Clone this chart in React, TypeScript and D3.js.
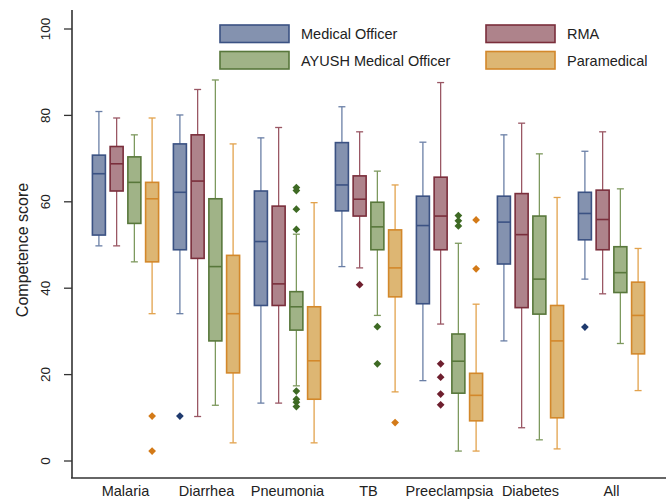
import React from 'react';
import * as d3 from 'd3';

// categories and series
const categories = ['Malaria', 'Diarrhea', 'Pneumonia', 'TB', 'Preeclampsia', 'Diabetes', 'All'];
const series = ['Medical Officer', 'RMA', 'AYUSH Medical Officer', 'Paramedical'];
const yTicks = [0, 20, 40, 60, 80, 100];

// [lower whisker, q1, median, q3, upper whisker] per category
const medicalOfficer = [
  [49.8, 52.3, 66.5, 70.8, 80.9],
  [34.1, 48.9, 62.2, 73.4, 80.1],
  [13.4, 36.0, 50.8, 62.5, 74.8],
  [45.0, 57.9, 63.9, 73.7, 82.0],
  [18.6, 36.4, 54.5, 61.3, 73.8],
  [27.8, 45.6, 55.3, 61.3, 75.5],
  [42.1, 51.2, 57.3, 62.2, 71.7],
];
const rma = [
  [49.8, 62.5, 68.8, 72.8, 79.4],
  [10.3, 46.9, 64.8, 75.5, 86.0],
  [13.4, 36.0, 41.0, 59.0, 77.2],
  [44.7, 56.7, 60.6, 66.0, 76.2],
  [31.7, 48.9, 56.7, 65.7, 87.6],
  [7.7, 35.5, 52.4, 61.9, 78.2],
  [38.7, 48.9, 55.9, 62.7, 76.2],
];
const ayush = [
  [46.1, 55.0, 64.5, 70.4, 75.5],
  [12.9, 27.8, 45.0, 60.7, 88.2],
  [17.4, 30.3, 35.7, 39.2, 52.5],
  [33.7, 48.9, 54.2, 59.9, 67.1],
  [2.3, 15.7, 23.1, 29.4, 50.4],
  [4.9, 34.0, 42.1, 56.7, 71.1],
  [27.2, 39.0, 43.6, 49.6, 63.0],
];
const paramedical = [
  [34.1, 46.1, 60.7, 64.5, 79.4],
  [4.2, 20.4, 34.1, 47.6, 73.4],
  [4.2, 14.3, 23.2, 35.7, 59.8],
  [16.0, 38.0, 44.7, 53.5, 63.9],
  [2.3, 9.3, 15.2, 20.3, 36.3],
  [2.8, 10.0, 27.8, 36.0, 61.0],
  [16.3, 24.8, 33.7, 41.4, 49.2],
];

// outliers per category
const moOutliers = [[], [10.4], [], [], [], [], [31.0]];
const rmaOutliers = [[], [], [], [40.8], [22.5, 19.4, 15.5, 13.0], [], []];
const ayushOutliers = [[], [], [63.3, 62.6, 58.3, 53.6, 16.2, 14.3, 13.6, 12.6], [31.1, 22.5], [56.8, 55.6, 54.4], [], []];
const paraOutliers = [[10.4, 2.3], [], [], [8.9], [55.8, 44.5], [], []];

const stats = [medicalOfficer, rma, ayush, paramedical];
const outliers = [moOutliers, rmaOutliers, ayushOutliers, paraOutliers];

const fills = ['#8492af', '#ae838b', '#a0b387', '#ddb673'];
const strokes = ['#3b5283', '#7a2e3b', '#58773b', '#d3882b'];
const whiskerColors = ['#6a7fa6', '#9a5764', '#7d995e', '#e2a24c'];
const dotColors = ['#1f3a6e', '#6e1f2e', '#3e6a24', '#d37a18'];

const font = '"Liberation Sans", Arial, sans-serif';

export default function App() {
  const width = 670;
  const height = 500;

  const x = d3.scaleBand<string>().domain(categories).range([85, 652]);
  const sub = d3.scalePoint<string>().domain(series).range([-26.6, 26.6]);
  const y = d3.scaleLinear().domain([0, 100]).range([461, 29]);
  const boxW = 13;
  const capW = 7;
  const diamond = d3.symbol().type(d3.symbolSquare).size(30)();

  const axisColor = '#333';

  return (
    <svg
      width={width}
      height={height}
      style={{ position: 'absolute', left: 0, top: 0, background: '#fff' }}
      fontFamily={font}
    >
      {/* boxes */}
      {series.map((s, si) =>
        categories.map((c, ci) => {
          const [lo, q1, med, q3, hi] = stats[si][ci];
          const cx = (x(c) ?? 0) + x.bandwidth() / 2 + (sub(s) ?? 0);
          return (
            <g key={s + c}>
              <line x1={cx} x2={cx} y1={y(hi)} y2={y(q3)} stroke={whiskerColors[si]} strokeWidth={1.3} />
              <line x1={cx} x2={cx} y1={y(q1)} y2={y(lo)} stroke={whiskerColors[si]} strokeWidth={1.3} />
              <line x1={cx - capW / 2} x2={cx + capW / 2} y1={y(hi)} y2={y(hi)} stroke={whiskerColors[si]} strokeWidth={1.3} />
              <line x1={cx - capW / 2} x2={cx + capW / 2} y1={y(lo)} y2={y(lo)} stroke={whiskerColors[si]} strokeWidth={1.3} />
              <rect
                x={cx - boxW / 2}
                y={y(q3)}
                width={boxW}
                height={y(q1) - y(q3)}
                fill={fills[si]}
                stroke={strokes[si]}
                strokeWidth={1.6}
              />
              <line x1={cx - boxW / 2} x2={cx + boxW / 2} y1={y(med)} y2={y(med)} stroke={strokes[si]} strokeWidth={1.6} />
              {outliers[si][ci].map((v, k) => (
                <path
                  key={k}
                  d={diamond}
                  transform={`translate(${cx},${y(v)}) rotate(45)`}
                  fill={dotColors[si]}
                />
              ))}
            </g>
          );
        })
      )}

      {/* y axis */}
      <line x1={72} x2={72} y1={10} y2={478} stroke={axisColor} strokeWidth={1.6} />
      {yTicks.map((t) => (
        <g key={t} transform={`translate(0,${y(t)})`}>
          <line x1={64} x2={72} stroke={axisColor} strokeWidth={1.3} />
          <text
            transform={`translate(50,0) rotate(-90)`}
            textAnchor="middle"
            fontSize={13.5}
            fill="#222"
          >
            {t}
          </text>
        </g>
      ))}
      <text
        transform={`translate(28,250) rotate(-90)`}
        textAnchor="middle"
        fontSize={16}
        fill="#222"
      >
        Competence score
      </text>

      {/* x axis */}
      <line x1={71} x2={666} y1={478} y2={478} stroke={axisColor} strokeWidth={1.6} />
      {categories.map((c) => (
        <text
          key={c}
          x={(x(c) ?? 0) + x.bandwidth() / 2}
          y={496}
          textAnchor="middle"
          fontSize={14.5}
          fill="#222"
        >
          {c}
        </text>
      ))}

      {/* legend */}
      {series.map((s, i) => {
        const col = i % 2;
        const row = Math.floor(i / 2);
        const lx = col === 0 ? 220 : 486;
        const ly = row === 0 ? 25 : 51.5;
        return (
          <g key={s} transform={`translate(${lx},${ly})`}>
            <rect width={69} height={17.5} fill={fills[i]} stroke={strokes[i]} strokeWidth={1.6} />
            <text x={81} y={14} fontSize={14.5} fill="#222">
              {s}
            </text>
          </g>
        );
      })}
    </svg>
  );
}
